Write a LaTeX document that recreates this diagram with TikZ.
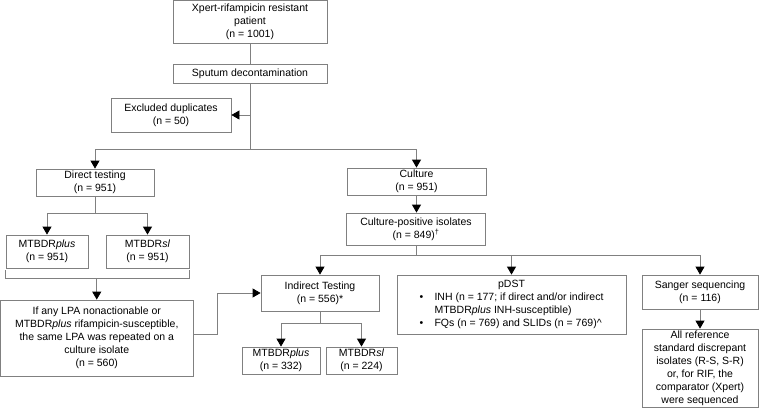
\documentclass[tikz,border=0pt]{standalone}
\usepackage{fontspec}
\setmainfont{Liberation Sans}
\usetikzlibrary{arrows.meta}
\definecolor{bordergray}{HTML}{808080}
\begin{document}
\begin{tikzpicture}[x=1pt,y=-1pt,
  box/.style={draw=bordergray, line width=0.8pt, align=center, inner sep=1pt,
              font=\fontsize{10.5}{13}\selectfont, text=black},
  conn/.style={draw=bordergray, line width=0.8pt},
  arr/.style={conn, -{Triangle[width=9pt,length=8pt,black]}}]
\useasboundingbox[fill=white] (0,0) rectangle (760,408);

% nodes
\node[box, minimum width=154, minimum height=43] (xpert) at (250,22) {Xpert-rifampicin resistant\\patient\\(n = 1001)};
\node[box, minimum width=154, minimum height=19] (sputum) at (250,73.5) {Sputum decontamination};
\node[box, minimum width=120, minimum height=34] (excl) at (171,115) {Excluded duplicates\\(n = 50)};
\node[box, minimum width=118, minimum height=27] (direct) at (95,182.5) {Direct testing\\(n = 951)};
\node[box, minimum width=82, minimum height=33] (plus1) at (47,251.5) {MTBDR\textit{plus}\\(n = 951)};
\node[box, minimum width=83, minimum height=33] (sl1) at (147.5,251.5) {MTBDR\textit{sl}\\(n = 951)};
\node[box, minimum width=192.5, minimum height=76] (lpa) at (96.75,338) {If any LPA nonactionable or\\MTBDR\textit{plus} rifampicin-susceptible,\\the same LPA was repeated on a\\culture isolate\\(n = 560)};
\node[box, minimum width=139, minimum height=27] (culture) at (416.5,181.5) {Culture\\(n = 951)};
\node[box, minimum width=139, minimum height=32] (cpos) at (416,229) {Culture-positive isolates\\(n = 849)\textsuperscript{†}};
\node[box, minimum width=118, minimum height=36] (indirect) at (320,293) {Indirect Testing\\(n = 556)*};
\node[box, minimum width=229, minimum height=59] (pdst) at (511.5,304.5) {%
  \begin{tabular}{@{}p{15pt}@{}l@{}}
  \multicolumn{2}{c}{pDST}\\
  \textbullet & INH (n = 177; if direct and/or indirect\\
   & MTBDR\textit{plus} INH-susceptible)\\
  \textbullet & FQs (n = 769) and SLIDs (n = 769)\textasciicircum
  \end{tabular}};
\node[box, minimum width=116, minimum height=34] (sanger) at (700,292) {Sanger sequencing\\(n = 116)};
\node[box, minimum width=116, minimum height=78] (allref) at (700,368) {All reference\\standard discrepant\\isolates (R-S, S-R)\\or, for RIF, the\\comparator (Xpert)\\were sequenced};
\node[box, minimum width=78, minimum height=27] (plus2) at (281,360.5) {MTBDR\textit{plus}\\(n = 332)};
\node[box, minimum width=71, minimum height=27] (sl2) at (361.5,360.5) {MTBDR\textit{sl}\\(n = 224)};

% junction coordinates
\coordinate (split1) at (250,149);
\coordinate (split2) at (95,213);
\coordinate (split3) at (416,255);
\coordinate (split4) at (320,323);
\coordinate (brlt) at (5,270);
\coordinate (brl) at (5,278);
\coordinate (brr) at (189.5,278);
\coordinate (brrt) at (189.5,270);

% connectors
\draw[conn] (xpert.south) -- (sputum.north);
\draw[conn] (sputum.south) -- (split1);
\draw[arr] (sputum.south |- excl.east) -- (excl.east);
\draw[conn] (direct.north |- split1) -- (culture.north |- split1);
\draw[arr] (direct.north |- split1) -- (direct.north);
\draw[arr] (culture.north |- split1) -- (culture.north);
\draw[arr] (culture.south) -- (culture.south |- cpos.north);

\draw[conn] (direct.south) -- (split2);
\draw[conn] (plus1.north |- split2) -- (sl1.north |- split2);
\draw[arr] (plus1.north |- split2) -- (plus1.north);
\draw[arr] (sl1.north |- split2) -- (sl1.north);

\draw[conn] (brlt) -- (brl) -- (brr) -- (brrt);
\draw[arr] (lpa.north |- brl) -- (lpa.north);
\draw[arr] ([yshift=4pt]lpa.east) -- ++(24,0) |- (indirect.west);

\draw[conn] (cpos.south) -- (split3);
\draw[conn] (indirect.north |- split3) -- (sanger.north |- split3);
\draw[arr] (indirect.north |- split3) -- (indirect.north);
\draw[arr] (pdst.north |- split3) -- (pdst.north);
\draw[arr] (sanger.north |- split3) -- (sanger.north);
\draw[arr] (sanger.south) -- (allref.north);

\draw[conn] (indirect.south) -- (split4);
\draw[conn] (plus2.north |- split4) -- (sl2.north |- split4);
\draw[arr] (plus2.north |- split4) -- (plus2.north);
\draw[arr] (sl2.north |- split4) -- (sl2.north);
\end{tikzpicture}
\end{document}
